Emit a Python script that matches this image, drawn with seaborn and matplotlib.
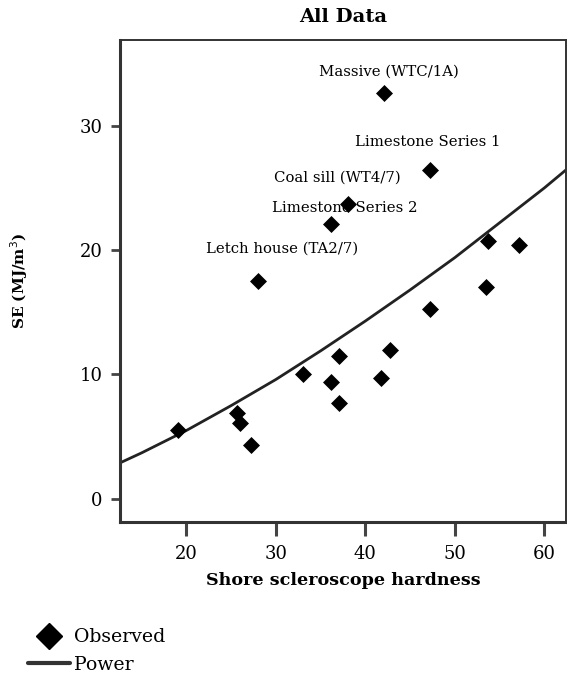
import numpy as np
import pandas as pd
import matplotlib
matplotlib.use("Agg")
import matplotlib.pyplot as plt
import seaborn as sns

# observed points (Shore hardness, SE in MJ/m3)
hardness = [42.1, 47.2, 38.0, 36.1, 28.0, 53.7, 57.2, 53.5, 47.2, 42.8,
            37.1, 33.0, 36.1, 41.7, 37.1, 19.1, 25.7, 26.0, 27.2]
energy = [32.6, 26.4, 23.7, 22.1, 17.5, 20.7, 20.4, 17.0, 15.3, 12.0,
          11.5, 10.0, 9.4, 9.7, 7.7, 5.5, 6.9, 6.1, 4.3]
labels = ["Massive (WTC/1A)", "Limestone Series 1", "Coal sill (WT4/7)",
          "Limestone Series 2", "Letch house (TA2/7)"] + [""] * 14

# power curve
curve_x = [12.6, 15, 20, 25, 30, 35, 40, 45, 50, 55, 60, 62.5]
curve_y = [2.9, 3.7, 5.5, 7.5, 9.6, 11.9, 14.3, 16.8, 19.4, 22.2, 25.0, 26.5]

x_ticks = [20, 30, 40, 50, 60]
y_ticks = [0, 10, 20, 30]

sns.set_style("white")
plt.rcParams['font.family'] = ['DejaVu Serif']
plt.rcParams['text.color'] = 'black'
plt.rcParams['axes.labelcolor'] = 'black'

df = pd.DataFrame({"hardness": hardness, "energy": energy, "label": labels})
fit = pd.DataFrame({"x": curve_x, "y": curve_y})

fig = plt.figure(figsize=(5.67, 6.76), dpi=100)
ax = fig.add_axes([0.212, 0.228, 0.786, 0.713])

sns.lineplot(data=fit, x="x", y="y", ax=ax, color="#222222", lw=2.0)
sns.scatterplot(data=df, x="hardness", y="energy", ax=ax, marker="D", s=75,
                color="black", edgecolor="black", linewidth=0, zorder=3)

# annotation offsets in pixels
offsets = {"Massive (WTC/1A)": (5, 15), "Limestone Series 1": (-2, 21),
           "Coal sill (WT4/7)": (-10, 19), "Limestone Series 2": (14, 9),
           "Letch house (TA2/7)": (24, 26)}
for _, r in df.iterrows():
    if r["label"]:
        ax.annotate(r["label"], (r["hardness"], r["energy"]),
                    xytext=offsets[r["label"]], textcoords="offset pixels",
                    ha="center", va="bottom", fontsize=10.7, color="black")

ax.set_xlim(12.6, 62.4)
ax.set_ylim(-1.85, 36.9)
ax.set_xticks(x_ticks)
ax.set_yticks(y_ticks)
ax.tick_params(axis="x", direction="out", length=10, width=2.2, color="#444444",
               labelsize=13, bottom=True, pad=7, labelcolor="black")
ax.tick_params(axis="y", direction="out", length=6.5, width=2, color="#444444",
               labelsize=13, left=True, pad=6, labelcolor="black")
for sp in ["left", "bottom"]:
    ax.spines[sp].set_linewidth(2.2)
    ax.spines[sp].set_color("#333333")
for sp in ["top", "right"]:
    ax.spines[sp].set_linewidth(1.4)
    ax.spines[sp].set_color("#333333")

ax.set_xlabel("Shore scleroscope hardness", fontsize=12.6, fontweight="bold", labelpad=6)
ax.set_ylabel("SE (MJ/m$^3$)", fontsize=11, fontweight="bold", labelpad=36)
ax.set_title("All Data", fontsize=14, fontweight="bold", pad=13)

h_obs = plt.Line2D([], [], marker="D", color="black", ls="none", markersize=13)
h_pow = plt.Line2D([], [], color="#333333", lw=3)
fig.legend([h_obs, h_pow], ["Observed", "Power"], loc="lower left",
           bbox_to_anchor=(0.02, -0.022), frameon=False, fontsize=13.6,
           handlelength=2.2, handletextpad=0.2, labelspacing=0.5)

fig.savefig("out.png", dpi=100)
